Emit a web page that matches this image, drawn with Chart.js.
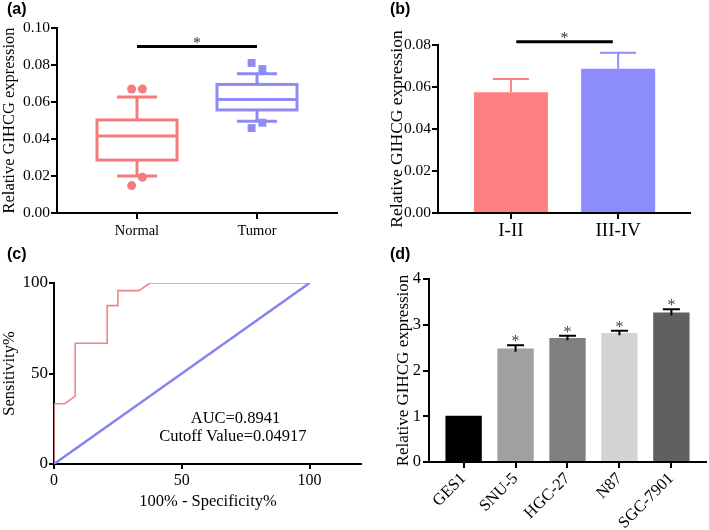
<!DOCTYPE html>
<html>
<head>
<meta charset="utf-8">
<script src="https://cdn.jsdelivr.net/npm/chart.js@4.4.0/dist/chart.umd.min.js"></script>
<style>
  body { margin: 0; background: #fff; }
  #wrap { position: relative; width: 709px; height: 530px; overflow: hidden; background: #fff; }
  canvas { position: absolute; }
  .tag { position: absolute; font: bold 16px "Liberation Sans", Arial, sans-serif; line-height: 16px; color: #000; }
</style>
</head>
<body>
<div id="wrap">
  <canvas id="ca" width="354" height="265" style="left:0px;top:0px"></canvas>
  <canvas id="cb" width="355" height="265" style="left:354px;top:0px"></canvas>
  <canvas id="cc" width="362" height="265" style="left:0px;top:265px"></canvas>
  <canvas id="cd" width="355" height="265" style="left:354px;top:265px"></canvas>
  <div class="tag" style="left:7px;top:1px">(a)</div>
  <div class="tag" style="left:390px;top:1px">(b)</div>
  <div class="tag" style="left:7px;top:246px">(c)</div>
  <div class="tag" style="left:390px;top:246px">(d)</div>
</div>
<script>
// (a) GIHCG em normal x tumor - box plot
const boxGroups = ['Normal', 'Tumor'];
const boxMin = [0.0200, 0.0496];
const boxQ1 = [0.0286, 0.0557];
const boxMedian = [0.0416, 0.0614];
const boxQ3 = [0.0503, 0.0695];
const boxMax = [0.0627, 0.0753];
const normalOutliers = [0.0670, 0.0670, 0.0193, 0.0148];
const tumorOutliers = [0.0811, 0.0778, 0.0488, 0.0459];
const sigA = 0.090;

// (b) estadio clinico
const stageLabels = ['I-II', 'III-IV'];
const stageMeans = [0.0575, 0.0687];
const stageErr = [0.0063, 0.0076];
const sigB = 0.0816;

// (c) curva ROC
const rocFpr = [0, 0, 4.2, 8.3, 8.3, 20.8, 20.8, 25, 25, 33.3, 37.5, 100];
const rocTpr = [0, 33.3, 33.3, 37.5, 66.7, 66.7, 87.5, 87.5, 95.8, 95.8, 100, 100];
const refLine = [0, 100];
const rocNotes = ['AUC=0.8941', 'Cutoff Value=0.04917'];

// (d) linhagens celulares
const cellLines = ['GES1', 'SNU-5', 'HGC-27', 'N87', 'SGC-7901'];
const cellMeans = [1.01, 2.48, 2.71, 2.82, 3.27];
const cellErr = [0, 0.07, 0.05, 0.05, 0.07];
const cellSig = [false, true, true, true, true];

const serif = '"Liberation Serif", "Times New Roman", serif';
Chart.defaults.font.family = serif;
Chart.defaults.color = '#000';

const red = '#F47C7C';
const blue = '#8C8CF4';
const barRed = '#FE8080';
const barBlue = '#8C8CFC';
const grays = ['#000000', '#A0A0A0', '#808080', '#D4D4D4', '#606060'];

const baseOpts = {
  responsive: false,
  animation: false,
  devicePixelRatio: 1,
  plugins: { legend: { display: false }, tooltip: { enabled: false } }
};

function axisGrid(len) {
  return { display: true, drawOnChartArea: false, drawTicks: true, tickLength: len, color: '#000', lineWidth: 2, offset: false };
}
const axisBorder = { display: true, color: '#000', width: 2 };

function drawStar(ctx, x, y, size, color) {
  ctx.fillStyle = color;
  ctx.font = size + 'px ' + serif;
  ctx.textAlign = 'center';
  ctx.textBaseline = 'alphabetic';
  ctx.fillText('*', x, y);
}

function sigLine(ctx, x1, x2, y) {
  ctx.strokeStyle = '#000';
  ctx.lineWidth = 3;
  ctx.beginPath();
  ctx.moveTo(x1, y);
  ctx.lineTo(x2, y);
  ctx.stroke();
}

// ---------- (a) ----------
const boxPlugin = {
  id: 'boxes',
  beforeDatasetsDraw(chart) {
    const { ctx, scales: { x, y } } = chart;
    ctx.save();
    ctx.lineWidth = 3;
    boxGroups.forEach((g, i) => {
      const cx = x.getPixelForValue(i);
      const half = x.getPixelForValue(i + 1 / 3) - cx;
      const cap = half / 2;
      const yMin = y.getPixelForValue(boxMin[i]);
      const yQ1 = y.getPixelForValue(boxQ1[i]);
      const yMed = y.getPixelForValue(boxMedian[i]);
      const yQ3 = y.getPixelForValue(boxQ3[i]);
      const yMax = y.getPixelForValue(boxMax[i]);
      ctx.strokeStyle = i === 0 ? red : blue;
      ctx.strokeRect(cx - half, yQ3, half * 2, yQ1 - yQ3);
      ctx.beginPath();
      ctx.moveTo(cx - half, yMed); ctx.lineTo(cx + half, yMed);
      ctx.moveTo(cx, yQ3); ctx.lineTo(cx, yMax);
      ctx.moveTo(cx - cap, yMax); ctx.lineTo(cx + cap, yMax);
      ctx.moveTo(cx, yQ1); ctx.lineTo(cx, yMin);
      ctx.moveTo(cx - cap, yMin); ctx.lineTo(cx + cap, yMin);
      ctx.stroke();
    });
    const ys = y.getPixelForValue(sigA);
    sigLine(ctx, x.getPixelForValue(0), x.getPixelForValue(1), ys);
    drawStar(ctx, x.getPixelForValue(0.5), ys + 1, 16, '#333');
    ctx.restore();
  }
};

// posicao dos outliers: esquerda/direita do centro
const outSide = [-1, 1, 1, -1];

new Chart(document.getElementById('ca'), {
  type: 'scatter',
  data: {
    datasets: [
      {
        data: normalOutliers.map((v, i) => ({ x: 0 + outSide[i] * 0.045, y: v })),
        pointStyle: 'circle', pointRadius: 4.5, backgroundColor: red, borderWidth: 0
      },
      {
        data: tumorOutliers.map((v, i) => ({ x: 1 + outSide[i] * 0.045, y: v })),
        pointStyle: 'rect', pointRadius: 5.6, backgroundColor: blue, borderWidth: 0
      }
    ]
  },
  options: {
    ...baseOpts,
    layout: { padding: { left: 0, top: 28, right: 17, bottom: 0 } },
    scales: {
      x: {
        type: 'linear', min: -2 / 3, max: 5 / 3, offset: false,
        afterFit: s => { s.height = 52; },
        afterBuildTicks: s => { s.ticks = [0, 1].map(v => ({ value: v })); },
        grid: axisGrid(6), border: axisBorder,
        ticks: { font: { size: 14.5 }, padding: 3, callback: v => boxGroups[v] }
      },
      y: {
        min: 0, max: 0.1,
        afterFit: s => { s.width = 57; },
        grid: axisGrid(6), border: axisBorder,
        ticks: { stepSize: 0.02, font: { size: 15.5 }, padding: 1, callback: v => v.toFixed(2) },
        title: { display: true, text: 'Relative GIHCG expression', font: { size: 16.5 }, padding: { top: 0, bottom: 0 } }
      }
    }
  },
  plugins: [boxPlugin]
});

// ---------- (b) ----------
const stagePlugin = {
  id: 'stageErr',
  afterDatasetsDraw(chart) {
    const { ctx, scales: { x, y } } = chart;
    ctx.save();
    ctx.lineWidth = 2;
    stageMeans.forEach((m, i) => {
      const cx = x.getPixelForValue(i);
      const cap = x.getPixelForValue(i + 0.168) - cx;
      const yTop = y.getPixelForValue(m + stageErr[i]);
      ctx.strokeStyle = i === 0 ? barRed : barBlue;
      ctx.beginPath();
      ctx.moveTo(cx, y.getPixelForValue(m)); ctx.lineTo(cx, yTop);
      ctx.moveTo(cx - cap, yTop); ctx.lineTo(cx + cap, yTop);
      ctx.stroke();
    });
    const ys = y.getPixelForValue(sigB);
    sigLine(ctx, x.getPixelForValue(0.05), x.getPixelForValue(0.95), ys);
    drawStar(ctx, x.getPixelForValue(0.5), ys + 1, 16, '#333');
    ctx.restore();
  }
};

new Chart(document.getElementById('cb'), {
  type: 'bar',
  data: {
    datasets: [{
      data: stageMeans.map((v, i) => ({ x: i, y: v })),
      backgroundColor: [barRed, barBlue],
      borderWidth: 0,
      barPercentage: 0.69,
      categoryPercentage: 1
    }]
  },
  options: {
    ...baseOpts,
    layout: { padding: { left: 0, top: 45, right: 19, bottom: 0 } },
    scales: {
      x: {
        type: 'linear', min: -0.68, max: 1.67, offset: false,
        afterFit: s => { s.height = 52; },
        afterBuildTicks: s => { s.ticks = [0, 1].map(v => ({ value: v })); },
        grid: axisGrid(6), border: axisBorder,
        ticks: { font: { size: 19 }, padding: 1, callback: v => stageLabels[v] }
      },
      y: {
        min: 0, max: 0.08,
        afterFit: s => { s.width = 84; },
        grid: axisGrid(6), border: axisBorder,
        ticks: { stepSize: 0.02, font: { size: 15.5 }, padding: 1, callback: v => v.toFixed(2) },
        title: { display: true, text: 'Relative GIHCG expression', font: { size: 17.5 }, padding: { top: 33, bottom: 0 } }
      }
    }
  },
  plugins: [stagePlugin]
});

// ---------- (c) ----------
const notePlugin = {
  id: 'rocNotes',
  afterDatasetsDraw(chart) {
    const { ctx, scales: { x, y } } = chart;
    ctx.save();
    ctx.fillStyle = '#000';
    ctx.font = '16.5px ' + serif;
    ctx.textAlign = 'center';
    ctx.textBaseline = 'middle';
    ctx.fillText(rocNotes[0], x.getPixelForValue(71), y.getPixelForValue(25));
    ctx.fillText(rocNotes[1], x.getPixelForValue(70), y.getPixelForValue(15));
    ctx.restore();
  }
};

new Chart(document.getElementById('cc'), {
  type: 'scatter',
  data: {
    datasets: [
      {
        data: refLine.map(v => ({ x: v, y: v })),
        showLine: true, pointRadius: 0, borderColor: '#8484F2', borderWidth: 2.5
      },
      {
        data: rocFpr.map((v, i) => ({ x: v, y: rocTpr[i] })),
        showLine: true, pointRadius: 0, borderColor: '#EE8686', borderWidth: 1.6
      }
    ]
  },
  options: {
    ...baseOpts,
    layout: { padding: { left: 0, top: 18, right: 0, bottom: 0 } },
    scales: {
      x: {
        type: 'linear', min: 0, max: 120.5,
        afterFit: s => { s.height = 66; },
        afterBuildTicks: s => { s.ticks = [0, 50, 100].map(v => ({ value: v })); },
        grid: axisGrid(5), border: axisBorder,
        ticks: { font: { size: 16 }, padding: 2 },
        title: { display: true, text: '100% - Specificity%', font: { size: 16.5 }, padding: { top: 0, bottom: 18 } }
      },
      y: {
        min: 0, max: 100,
        afterFit: s => { s.width = 54; },
        afterBuildTicks: s => { s.ticks = [0, 50, 100].map(v => ({ value: v })); },
        grid: axisGrid(5), border: axisBorder,
        ticks: { font: { size: 17 }, padding: 1 },
        title: { display: true, text: 'Sensitivity%', font: { size: 16.5 }, padding: { top: 0, bottom: 0 } }
      }
    }
  },
  plugins: [notePlugin]
});

// ---------- (d) ----------
const cellPlugin = {
  id: 'cellErr',
  afterDatasetsDraw(chart) {
    const { ctx, scales: { x, y } } = chart;
    ctx.save();
    ctx.lineWidth = 2;
    ctx.strokeStyle = '#000';
    cellMeans.forEach((m, i) => {
      const cx = x.getPixelForValue(i);
      const yTop = y.getPixelForValue(m + cellErr[i]);
      if (cellErr[i] > 0) {
        const cap = x.getPixelForValue(i + 0.164) - cx;
        ctx.beginPath();
        ctx.moveTo(cx, y.getPixelForValue(m - cellErr[i])); ctx.lineTo(cx, yTop);
        ctx.moveTo(cx - cap, yTop); ctx.lineTo(cx + cap, yTop);
        ctx.stroke();
      }
      if (cellSig[i]) drawStar(ctx, cx, yTop + 1, 16, '#444');
    });
    ctx.restore();
  }
};

new Chart(document.getElementById('cd'), {
  type: 'bar',
  data: {
    datasets: [{
      data: cellMeans.map((v, i) => ({ x: i, y: v })),
      backgroundColor: grays,
      borderWidth: 0,
      barPercentage: 0.7,
      categoryPercentage: 1
    }]
  },
  options: {
    ...baseOpts,
    layout: { padding: { left: 0, top: 14, right: 3, bottom: 0 } },
    scales: {
      x: {
        type: 'linear', min: -2 / 3, max: 4 + 2 / 3, offset: false,
        afterFit: s => { s.height = 68; },
        afterBuildTicks: s => { s.ticks = cellLines.map((c, i) => ({ value: i })); },
        grid: axisGrid(6), border: axisBorder,
        ticks: { font: { size: 16.5 }, padding: 1, minRotation: 45, maxRotation: 45, autoSkip: false, callback: v => cellLines[v] }
      },
      y: {
        min: 0, max: 4,
        afterFit: s => { s.width = 75; },
        grid: axisGrid(6), border: axisBorder,
        ticks: { stepSize: 1, font: { size: 16.5 }, padding: 2 },
        title: { display: true, text: 'Relative GIHCG expression', font: { size: 17 }, padding: { top: 39, bottom: 0 } }
      }
    }
  },
  plugins: [cellPlugin]
});
</script>
</body>
</html>
